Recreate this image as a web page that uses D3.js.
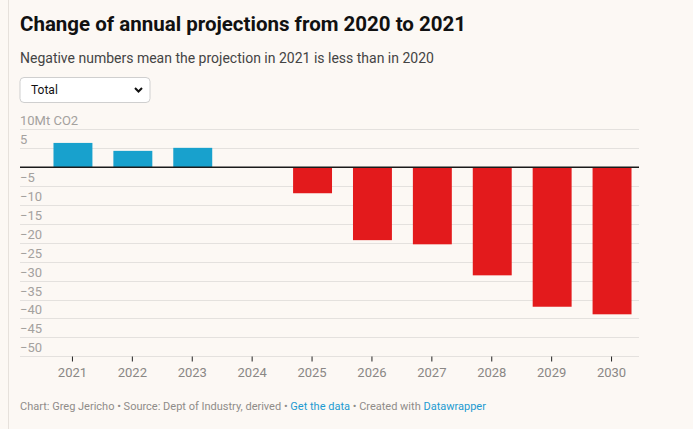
<!DOCTYPE html>
<html>
<head>
<meta charset="utf-8">
<script src="https://cdn.jsdelivr.net/npm/d3@7"></script>
<style>
  html, body { margin: 0; padding: 0; background: #fcf8f4; }
  svg { display: block; font-family: Roboto, "Noto Sans", sans-serif; }
</style>
</head>
<body>
<div id="chart"></div>
<script>
// data
var years = ["2021", "2022", "2023", "2024", "2025", "2026", "2027", "2028", "2029", "2030"];
var changes = [6.4, 4.3, 5.1, 0, -6.9, -19.3, -20.4, -28.6, -36.9, -38.9];
var yTicks = [10, 5, 0, -5, -10, -15, -20, -25, -30, -35, -40, -45, -50];

var svgWidth = 693;
var svgHeight = 429;

var svg = d3.select("#chart")
  .append("svg")
  .attr("width", svgWidth)
  .attr("height", svgHeight);

// page background and the thin border on the left
svg.append("rect")
  .attr("width", svgWidth)
  .attr("height", svgHeight)
  .attr("fill", "#fcf8f4");

svg.append("line")
  .attr("x1", 8.5).attr("x2", 8.5)
  .attr("y1", 0).attr("y2", svgHeight)
  .attr("stroke", "#e6e1dc");

// header
svg.append("text")
  .attr("x", 20).attr("y", 31)
  .attr("font-size", 20.5)
  .attr("font-weight", 700)
  .attr("fill", "#111")
  .text("Change of annual projections from 2020 to 2021");

svg.append("text")
  .attr("x", 20).attr("y", 63)
  .attr("font-size", 14)
  .attr("fill", "#444")
  .text("Negative numbers mean the projection in 2021 is less than in 2020");

// the dropdown box
var dropdown = svg.append("g").attr("transform", "translate(20,77.5)");
dropdown.append("rect")
  .attr("width", 130).attr("height", 25)
  .attr("rx", 4)
  .attr("fill", "#fff")
  .attr("stroke", "#cfcfcf");
dropdown.append("text")
  .attr("x", 11).attr("y", 16.5)
  .attr("font-size", 12)
  .attr("fill", "#111")
  .text("Total");
dropdown.append("path")
  .attr("d", "M115,10.5 L118.5,14 L122,10.5")
  .attr("fill", "none")
  .attr("stroke", "#111")
  .attr("stroke-width", 2);

// scales
var x = d3.scaleBand()
  .domain(years)
  .range([43, 642])
  .paddingInner(0.35)
  .paddingOuter(0.175);

var y = d3.scaleLinear()
  .domain([-50, 10])
  .range([356.3, 129.3]);

var gridLeft = 20;
var gridRight = 639;

// gridlines
svg.append("g")
  .selectAll("line")
  .data(yTicks.filter(d => d !== 0))
  .enter()
  .append("line")
  .attr("x1", gridLeft).attr("x2", gridRight)
  .attr("y1", d => Math.round(y(d)) + 0.5)
  .attr("y2", d => Math.round(y(d)) + 0.5)
  .attr("stroke", "#e4e1de");

// y labels sit just above their gridline
svg.append("g")
  .selectAll("text")
  .data(yTicks.filter(d => d !== 0))
  .enter()
  .append("text")
  .attr("x", gridLeft)
  .attr("y", d => y(d) - 4)
  .attr("font-size", 13)
  .attr("fill", "#a4a19e")
  .text(d => d === 10 ? "10Mt CO2" : d3.format("")(d).replace("-", "\u2212"));

// bars
svg.append("g")
  .selectAll("rect")
  .data(years)
  .enter()
  .append("rect")
  .attr("x", (d, i) => x(d))
  .attr("width", x.bandwidth())
  .attr("y", (d, i) => y(Math.max(0, changes[i])))
  .attr("height", (d, i) => Math.abs(y(changes[i]) - y(0)))
  .attr("fill", (d, i) => changes[i] >= 0 ? "#18a1cd" : "#e31a1c");

// zero line
svg.append("line")
  .attr("x1", gridLeft).attr("x2", gridRight)
  .attr("y1", y(0)).attr("y2", y(0))
  .attr("stroke", "#1a1a1a")
  .attr("stroke-width", 1.5);

// x axis, ticks sit half a pixel left of the bar centres
var xAxis = svg.append("g")
  .attr("transform", `translate(-0.5, ${Math.round(y(-50)) + 0.5})`)
  .call(d3.axisBottom(x).tickSize(5).tickPadding(6));
xAxis.select(".domain").remove();
xAxis.selectAll(".tick line").attr("stroke", "#222");
xAxis.selectAll(".tick text")
  .attr("font-size", 13)
  .attr("font-family", "Roboto, sans-serif")
  .attr("fill", "#8a8785");

// footer
var footer = svg.append("text")
  .attr("x", 20).attr("y", 410)
  .attr("font-size", 11)
  .attr("fill", "#8f8c89");
footer.append("tspan").text("Chart: Greg Jericho \u2022 Source: Dept of Industry, derived \u2022 ");
footer.append("tspan").attr("fill", "#1d9bd1").text("Get the data");
footer.append("tspan").text(" \u2022 Created with ");
footer.append("tspan").attr("fill", "#1d9bd1").text("Datawrapper");
</script>
</body>
</html>
